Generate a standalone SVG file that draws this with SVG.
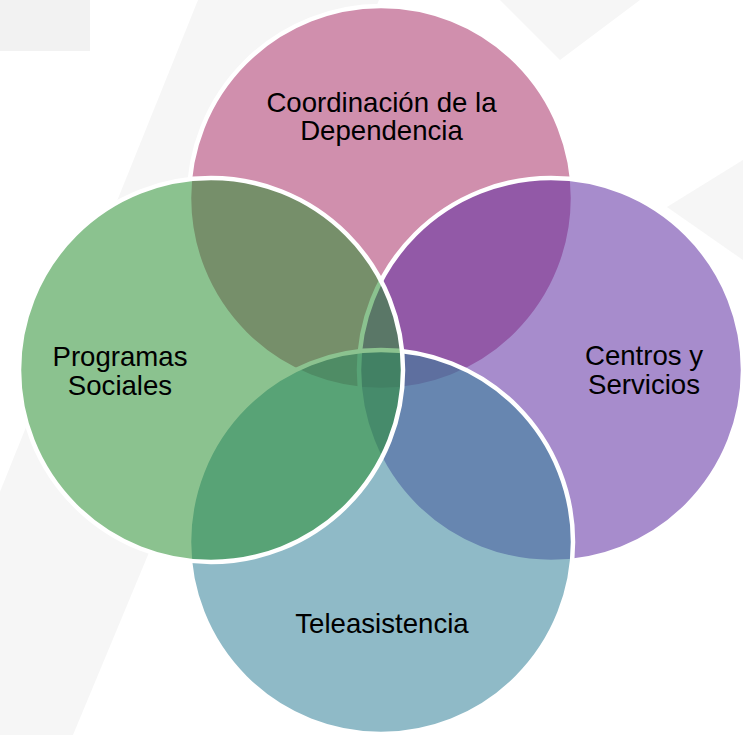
<svg xmlns="http://www.w3.org/2000/svg" width="743" height="735" viewBox="0 0 743 735">
  <style>
    .bg { fill: #F6F6F6; }
    .w { fill: #FFFFFF; }
    .c { stroke: #FFFFFF; stroke-width: 4.5; fill-opacity: 0.55; }
    .t { font-family: "Liberation Sans", Arial, sans-serif; font-size: 27.6px; fill: #000000; text-anchor: middle; }
  </style>
  <rect width="743" height="735" fill="#FFFFFF"/>
  <g id="background">
    <rect x="0" y="0" width="90" height="51" fill="#F2F2F2"/>
    <polygon class="bg" points="198,0 379,0 73,735 -98,735"/>
    <polygon class="bg" points="500,0 640,0 560,60"/>
    <polygon class="bg" points="743,160 667,207 743,260"/>
    <circle class="w" cx="381" cy="198" r="192"/>
    <circle class="w" cx="551" cy="370" r="192"/>
    <circle class="w" cx="381" cy="542" r="192"/>
    <circle class="w" cx="211" cy="370" r="192"/>
  </g>
  <g id="connectors"></g>
  <g id="node-coordinacion">
    <circle class="c" cx="381" cy="198" r="192" fill="#AA336A"/>
  </g>
  <g id="node-centros">
    <circle class="c" cx="551" cy="370" r="192" fill="#5F2EA2"/>
  </g>
  <g id="node-teleasistencia">
    <circle class="c" cx="381" cy="542" r="192" fill="#338299"/>
  </g>
  <g id="node-programas">
    <circle class="c" cx="211" cy="370" r="192" fill="#2C9033"/>
  </g>
  <g id="labels">
    <text class="t" x="381.5" y="112">Coordinación de la</text>
    <text class="t" x="381.5" y="140">Dependencia</text>
    <text class="t" x="120" y="366">Programas</text>
    <text class="t" x="120" y="395">Sociales</text>
    <text class="t" x="644" y="365">Centros y</text>
    <text class="t" x="644" y="393.5">Servicios</text>
    <text class="t" x="382" y="632.5">Teleasistencia</text>
  </g>
</svg>
